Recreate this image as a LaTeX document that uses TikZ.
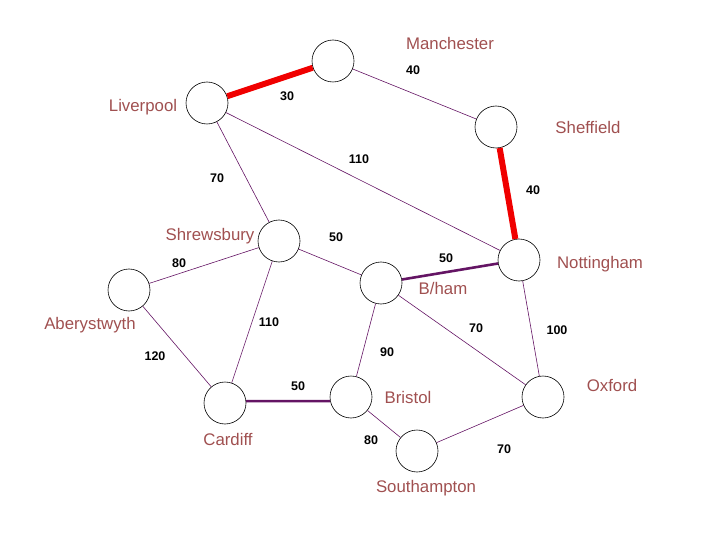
\documentclass[tikz,border=0pt]{standalone}
\usepackage{fontspec}
\setmainfont{Liberation Sans}
\definecolor{city}{RGB}{160,80,80}
\definecolor{edgec}{RGB}{100,20,100}
\definecolor{redc}{RGB}{240,0,0}
\begin{document}
\begin{tikzpicture}[x=1pt,y=-1pt,
  town/.style={draw=black,fill=white,circle,minimum size=42pt,inner sep=0pt,line width=0.6pt},
  cityname/.style={text=city,font=\fontsize{16.8}{18}\selectfont,inner sep=0pt},
  wt/.style={font=\bfseries\fontsize{12.5}{14}\selectfont,inner sep=0pt},
  ethin/.style={draw=edgec,line width=0.6pt},
  emid/.style={draw=edgec,line width=2.6pt},
  ethick/.style={draw=redc,line width=6pt}]
\useasboundingbox (0,0) rectangle (720,540);
\node[town] (man) at (333,61) {};
\node[town] (liv) at (207,103) {};
\node[town] (she) at (496,127) {};
\node[town] (shr) at (279,241) {};
\node[town] (bir) at (381,283) {};
\node[town] (not) at (519,260) {};
\node[town] (abe) at (129,290) {};
\node[town] (car) at (225,403) {};
\node[town] (bri) at (351,397) {};
\node[town] (sou) at (417,451) {};
\node[town] (oxf) at (543,397) {};
\draw[ethick] (liv) -- (man);
\draw[ethin] (man) -- (she);
\draw[ethick] (she) -- (not);
\draw[ethin] (liv) -- (not);
\draw[ethin] (liv) -- (shr);
\draw[ethin] (shr) -- (bir);
\draw[emid] (bir) -- (not);
\draw[ethin] (shr) -- (abe);
\draw[ethin] (shr) -- (car);
\draw[ethin] (abe) -- (car);
\draw[ethin] (bir) -- (bri);
\draw[ethin] (bir) -- (oxf);
\draw[ethin] (not) -- (oxf);
\draw[emid] (car.5) -- (bri.191);
\draw[ethin] (bri) -- (sou);
\draw[ethin] (sou) -- (oxf);
\node[cityname] (nman) at (450,43) {Manchester};
\node[cityname] (nliv) at (143,107) {Liverpool};
\node[cityname] (nshe) at (588,127) {Sheffield};
\node[cityname] (nshr) at (210,236) {Shrewsbury};
\node[cityname] (nnot) at (600,264) {Nottingham};
\node[cityname] (nbir) at (443,288) {B/ham};
\node[cityname] (nabe) at (90,325) {Aberystwyth};
\node[cityname] (noxf) at (612,385) {Oxford};
\node[cityname] (nbri) at (408,397) {Bristol};
\node[cityname] (ncar) at (228,439) {Cardiff};
\node[cityname] (nsou) at (426,488) {Southampton};
\node[wt] (w1) at (413,70) {40};
\node[wt] (w2) at (287,96) {30};
\node[wt] (w3) at (359,159) {110};
\node[wt] (w4) at (217,178) {70};
\node[wt] (w5) at (533,190) {40};
\node[wt] (w6) at (336,237) {50};
\node[wt] (w7) at (446,258) {50};
\node[wt] (w8) at (179,263) {80};
\node[wt] (w9) at (269,322) {110};
\node[wt] (w10) at (476,328) {70};
\node[wt] (w11) at (557,330) {100};
\node[wt] (w12) at (387,352) {90};
\node[wt] (w13) at (155,356) {120};
\node[wt] (w14) at (298,386) {50};
\node[wt] (w15) at (371,440) {80};
\node[wt] (w16) at (504,449) {70};
\end{tikzpicture}
\end{document}
